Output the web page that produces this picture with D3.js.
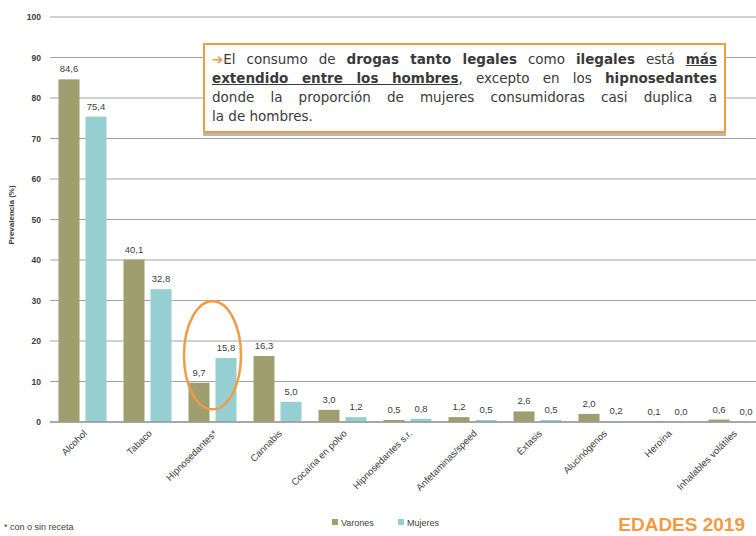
<!DOCTYPE html>
<html>
<head>
<meta charset="utf-8">
<script src="https://cdn.jsdelivr.net/npm/d3@7"></script>
<style>
  body { margin: 0; background: #fff; }
  .render { position: relative; width: 756px; height: 536px; overflow: hidden; }
  .note {
    position: absolute; left: 203px; top: 43px; width: 505px; height: 80px;
    padding: 5px 7px 1px 7px; border: 2px solid #f29b45; background: #fff;
    box-shadow: 0 3px 0 #b8b8b8;
    font-family: "DejaVu Sans", sans-serif; font-size: 13.5px; line-height: 19px;
    color: #3a3a3a;
  }
  .note div { text-align: justify; text-align-last: justify; white-space: nowrap; }
  .note div.last { text-align-last: left; }
  .note b { font-weight: bold; }
  .note u { font-weight: bold; text-decoration: underline; }
  .note .arrow { color: #f29b45; font-weight: bold; }
</style>
</head>
<body>
<div class="render"></div>
<script>
var categories = ["Alcohol", "Tabaco", "Hipnosedantes*", "Cannabis", "Cocaína en polvo", "Hipnosedantes s.r.",
  "Anfetaminas/speed", "Éxtasis", "Alucinógenos", "Heroína", "Inhalables volátiles"];
var varones = [84.6, 40.1, 9.7, 16.3, 3.0, 0.5, 1.2, 2.6, 2.0, 0.1, 0.6];
var mujeres = [75.4, 32.8, 15.8, 5.0, 1.2, 0.8, 0.5, 0.5, 0.2, 0.0, 0.0];
var seriesNames = ["Varones", "Mujeres"];
var yTicks = [0, 10, 20, 30, 40, 50, 60, 70, 80, 90, 100];

var w = 756, h = 536;
var colors = { Varones: "#9e9e6f", Mujeres: "#95cfd1" };
var fmt = function (v) { return v.toFixed(1).replace(".", ","); };
var font = "Liberation Sans, Arial, sans-serif";

var svg = d3.select(".render").append("svg").attr("width", w).attr("height", h)
  .style("position", "absolute").style("left", 0).style("top", 0);

var y = d3.scaleLinear().domain([0, 100]).range([422, 17]);
var x0 = d3.scaleBand().domain(categories).range([50, 765]);
var x1 = d3.scaleBand().domain(seriesNames).range([8.5, 56.5]).paddingInner(0.222);

// grid lines + tick labels
svg.append("g").selectAll("line").data(yTicks).enter().append("line")
  .attr("x1", 50).attr("x2", w).attr("y1", function (d) { return y(d); }).attr("y2", function (d) { return y(d); })
  .attr("stroke", "#a3a3a3").attr("stroke-width", 1);

var yAxis = d3.axisLeft(y).tickValues(yTicks).tickSize(0).tickPadding(9);
svg.append("g").attr("transform", "translate(50,0)").call(yAxis)
  .call(function (g) { g.select(".domain").remove(); })
  .selectAll("text").style("font-family", font)
  .style("font-size", "8.5px").style("font-weight", "bold").attr("fill", "#3c3c3c");

svg.append("text").text("Prevalencia (%)")
  .attr("transform", "translate(14,215)rotate(-90)").attr("text-anchor", "middle")
  .style("font-family", font).style("font-size", "8px")
  .style("font-weight", "bold").attr("fill", "#3c3c3c");

// bars
var rows = categories.map(function (c, i) {
  return { cat: c, values: [{ s: "Varones", v: varones[i] }, { s: "Mujeres", v: mujeres[i] }] };
});

var groups = svg.append("g").selectAll("g").data(rows).enter().append("g")
  .attr("transform", function (d) { return "translate(" + x0(d.cat) + ",0)"; });

groups.selectAll("rect").data(function (d) { return d.values; }).enter().append("rect")
  .attr("x", function (d) { return x1(d.s); })
  .attr("width", x1.bandwidth())
  .attr("y", function (d) { return y(d.v); })
  .attr("height", function (d) { return y(0) - y(d.v); })
  .attr("fill", function (d) { return colors[d.s]; });

groups.selectAll("text").data(function (d) { return d.values; }).enter().append("text")
  .text(function (d) { return fmt(d.v); })
  .attr("x", function (d) { return x1(d.s) + x1.bandwidth() / 2; })
  .attr("y", function (d) { return y(d.v) - 7; })
  .attr("text-anchor", "middle")
  .style("font-family", font).style("font-size", "9.5px")
  .attr("fill", "#3c3c3c");

// x axis
var xAxis = d3.axisBottom(x0).tickSize(0).tickPadding(0);
var xg = svg.append("g").attr("transform", "translate(0,422)").call(xAxis);
xg.select(".domain").attr("d", "M50,0H" + w).attr("stroke", "#9a9a9a").attr("stroke-width", 1.5);
xg.selectAll("text")
  .attr("transform", "translate(3,10)rotate(-45)").attr("text-anchor", "end").attr("dy", "0.3em").attr("y", 0)
  .style("font-family", font).style("font-size", "9.5px").attr("fill", "#3c3c3c");

// highlight ellipse
svg.append("ellipse")
  .attr("cx", x0("Hipnosedantes*") + x0.bandwidth() / 2)
  .attr("cy", (y(0) + y(27.5)) / 2 - 11)
  .attr("rx", 28.5).attr("ry", 54)
  .attr("fill", "none").attr("stroke", "#f29b45").attr("stroke-width", 2.5);

// legend
var leg = svg.append("g").attr("transform", "translate(332,519)");
seriesNames.forEach(function (s, i) {
  var g = leg.append("g").attr("transform", "translate(" + (i * 66) + ",0)");
  g.append("rect").attr("width", 6).attr("height", 6).attr("fill", colors[s]);
  g.append("text").text(s).attr("x", 9).attr("y", 6.5)
    .style("font-family", font).style("font-size", "9px").attr("fill", "#3c3c3c");
});

svg.append("text").text("* con o sin receta").attr("x", 4).attr("y", 530)
  .style("font-family", font).style("font-size", "9px").attr("fill", "#3c3c3c");

svg.append("text").text("EDADES 2019").attr("x", 745).attr("y", 531).attr("text-anchor", "end")
  .style("font-family", font).style("font-size", "19px")
  .style("font-weight", "bold").attr("fill", "#f29b45");

// annotation box
var noteLines = [
  '<span class="arrow">&#10132;</span>El consumo de <b>drogas tanto legales</b> como <b>ilegales</b> está <u>más</u>',
  '<u>extendido entre los hombres</u>, excepto en los <b>hipnosedantes</b>',
  'donde la proporción de mujeres consumidoras casi duplica a',
  'la de hombres.'
];
var note = d3.select(".render").append("div").attr("class", "note");
note.selectAll("div").data(noteLines).enter().append("div")
  .attr("class", function (d, i) { return i === noteLines.length - 1 ? "last" : null; })
  .html(function (d) { return d; });
</script>
</body>
</html>
